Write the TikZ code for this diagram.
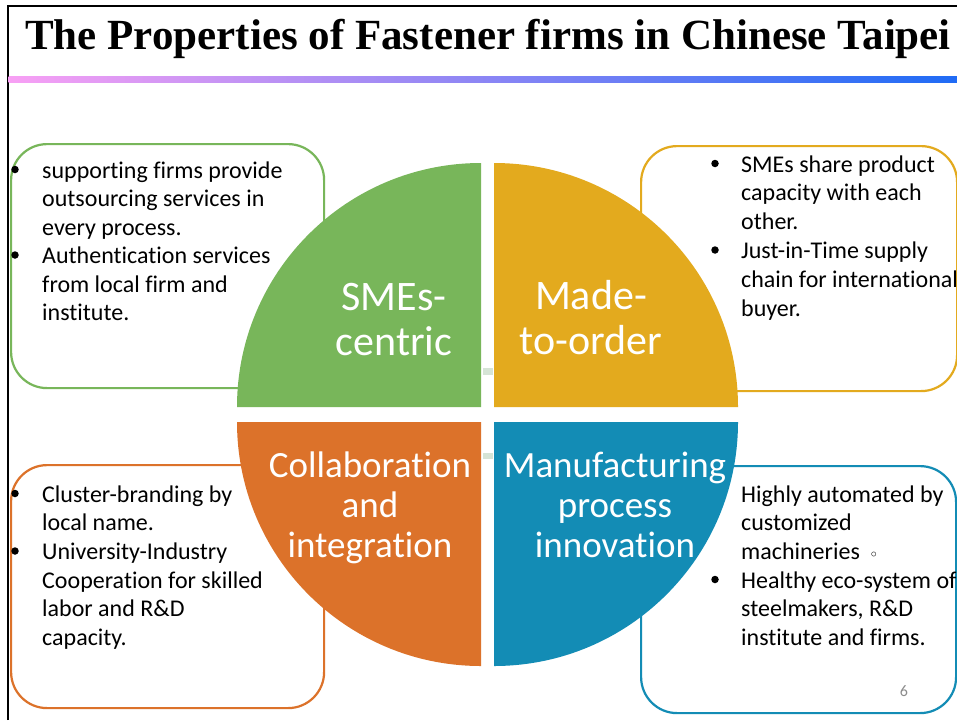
\documentclass[tikz,border=0pt]{standalone}
\usepackage{fontspec}
\setmainfont{Carlito}[Ligatures={NoCommon}]
\newfontfamily\titlefont{Liberation Serif}
\definecolor{qgreen}{HTML}{78B65A}
\definecolor{qyellow}{HTML}{E3AA1E}
\definecolor{qorange}{HTML}{DC722A}
\definecolor{qblue}{HTML}{138CB5}
\definecolor{gpink}{HTML}{F8A0F4}
\definecolor{gblue}{HTML}{1F6BF5}
\definecolor{dotc}{HTML}{D6E4D6}
\tikzset{
  infobox/.style={draw, line width=2.2pt, rounded corners=36pt, fill=white, inner sep=0pt, anchor=north west},
  btext/.style={inner sep=0pt, anchor=base west, text=black},
  qlabel/.style={inner sep=0pt, anchor=base, text=white},
  bul/.style={circle, fill=black, inner sep=0pt, minimum size=7.5pt},
}
\begin{document}
\begin{tikzpicture}[x=1pt,y=-1pt]
\useasboundingbox (0,0) rectangle (957,720);
\clip (0,0) rectangle (957,720);
\fill[white] (0,0) rectangle (957,720);
% frame
\draw[line width=2pt] (7.5,720) -- (7.5,6) -- (957,6);
% title
\node[inner sep=0pt, anchor=base west] (title) at (25,49) {\titlefont\bfseries\fontsize{43}{43}\selectfont The Properties of Fastener firms in Chinese Taipei};
\shade[left color=gpink, right color=gblue] (8.5,76) rectangle (957,82);
% boxes
\node[infobox, draw=qgreen, minimum width=313pt, minimum height=244pt] (gbox) at (10,143) {};
\node[infobox, draw=qyellow, minimum width=316pt, minimum height=245pt] (ybox) at (640,145) {};
\node[infobox, draw=qorange, minimum width=313pt, minimum height=243pt] (obox) at (10,464) {};
\node[infobox, draw=qblue, minimum width=315pt, minimum height=247pt] (bbox) at (640,465) {};
% quadrants
\fill[qgreen] (481,407) -- (237,407) arc[start angle=180, end angle=90, radius=244pt] -- cycle;
\fill[qyellow] (494,407) -- (494,163) arc[start angle=90, end angle=0, radius=244pt] -- cycle;
\fill[qorange] (481,422) -- (481,666) arc[start angle=270, end angle=180, radius=244pt] -- cycle;
\fill[qblue] (494,422) -- (738,422) arc[start angle=0, end angle=-90, radius=244pt] -- cycle;
\fill[dotc] (483,368) rectangle (493,375);
\fill[dotc] (483,453) rectangle (493,459);
% quadrant labels
\node[qlabel] (lg) at (394,310) {\parbox[t]{240pt}{\centering\fontsize{42}{45}\selectfont SMEs-\\centric}};
\node[qlabel] (ly) at (591,309) {\parbox[t]{240pt}{\centering\fontsize{42}{45}\selectfont Made-\\to-order}};
\node[qlabel] (lo) at (370,477) {\parbox[t]{240pt}{\centering\fontsize{37}{40}\selectfont Collaboration\\and\\integration}};
\node[qlabel] (lb) at (615,477) {\parbox[t]{240pt}{\centering\fontsize{37}{40}\selectfont Manufacturing\\process\\innovation}};
% box texts
\node[btext] (gt) at (42,178) {\parbox[t]{400pt}{\fontsize{24}{28.5}\selectfont\raggedright
supporting firms provide\\outsourcing services in\\every process.\\Authentication services\\from local firm and\\institute.}};
\node[bul] (gb1) at (15,169.5) {};
\node[bul] (gb2) at (15,255) {};
\node[btext] (yt) at (741,172) {\parbox[t]{400pt}{\fontsize{24}{28.8}\selectfont\raggedright
SMEs share product\\capacity with each\\other.\\Just-in-Time supply\\chain for international\\buyer.}};
\node[bul] (yb1) at (715,163.5) {};
\node[bul] (yb2) at (715,250) {};
\node[btext] (ot) at (42,502) {\parbox[t]{400pt}{\fontsize{24}{28.7}\selectfont\raggedright
Cluster-branding by\\local name.\\University-Industry\\Cooperation for skilled\\labor and R\&D\\capacity.}};
\node[bul] (ob1) at (15,493.5) {};
\node[bul] (ob2) at (15,551) {};
\node[btext] (bt) at (741,502) {\parbox[t]{400pt}{\fontsize{24}{28.7}\selectfont\raggedright
Highly automated by\\customized\\machineries\ \ \raisebox{0.1em}{\fontsize{12}{12}\selectfont$\circ$}\\Healthy eco-system of\\steelmakers, R\&D\\institute and firms.}};
\node[bul] (bb1) at (715,579.5) {};
\node[inner sep=0pt, anchor=base, text=black!45] (pg) at (904,696) {\fontsize{16}{16}\selectfont 6};
\end{tikzpicture}
\end{document}
